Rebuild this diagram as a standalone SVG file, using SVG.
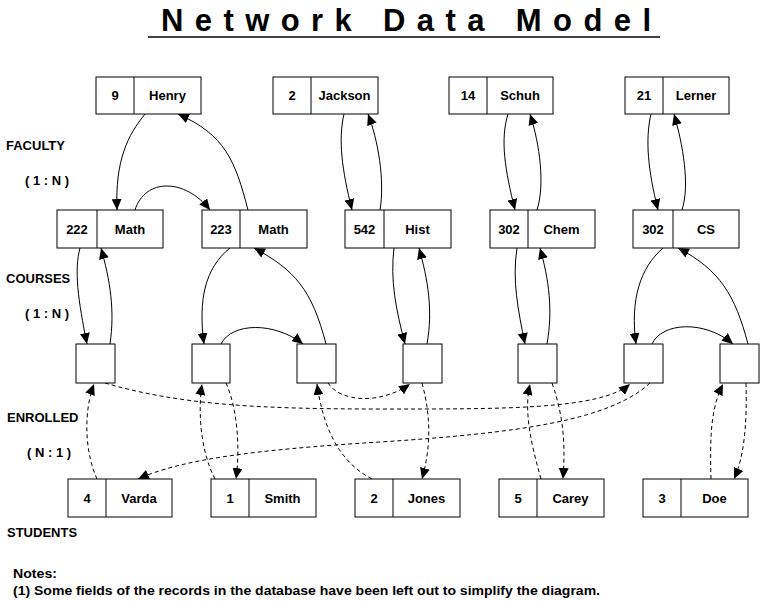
<svg xmlns="http://www.w3.org/2000/svg" width="763" height="601" viewBox="0 0 763 601">
<style>
text{font-family:"Liberation Sans",Arial,sans-serif;font-weight:bold;fill:#000}
.bx{fill:#fff;stroke:#000;stroke-width:1}
.dv{stroke:#000;stroke-width:1}
.t{font-size:13px;text-anchor:middle}
.lbl{font-size:13px}
.c{fill:none;stroke:#000;stroke-width:1;marker-end:url(#ah)}
.d{stroke-dasharray:4,3}
</style>
<defs>
<marker id="ah" markerUnits="userSpaceOnUse" markerWidth="12" markerHeight="10" refX="11" refY="5" orient="auto">
<path d="M0,0 L11,5 L0,10 z" fill="#000"/>
</marker>
</defs>
<rect width="763" height="601" fill="#fff"/>
<g id="title">
<text x="161" y="31" font-size="31" textLength="490" lengthAdjust="spacing">Network Data Model</text>
<line x1="148" y1="37" x2="660" y2="37" stroke="#000" stroke-width="1.5"/>
</g>
<g id="labels">
<text class="lbl" x="6" y="150">FACULTY</text>
<text class="lbl" x="25" y="185">( 1 : N )</text>
<text class="lbl" x="6" y="283">COURSES</text>
<text class="lbl" x="25" y="318">( 1 : N )</text>
<text class="lbl" x="7" y="422">ENROLLED</text>
<text class="lbl" x="27" y="457">( N : 1 )</text>
<text class="lbl" x="7" y="537">STUDENTS</text>
<text class="lbl" x="13" y="578" textLength="44" lengthAdjust="spacingAndGlyphs">Notes:</text>
<text class="lbl" x="13" y="595" textLength="587" lengthAdjust="spacingAndGlyphs">(1) Some fields of the records in the database have been left out to simplify the diagram.</text>
</g>
<g id="connectors">
<path class="c" d="M145,114 C128,135 115,160 117,210"/>
<path class="c" d="M135,210 C145,178 185,178 210,210"/>
<path class="c" d="M248,210 C235,160 225,135 178,114"/>
<path class="c" d="M344,114 C338,140 342,170 352,210"/>
<path class="c" d="M380,210 C385,180 378,140 368,114"/>
<path class="c" d="M508,114 C500,140 505,170 515,210"/>
<path class="c" d="M537,210 C545,185 540,145 530,114"/>
<path class="c" d="M651,114 C645,140 648,170 658,210"/>
<path class="c" d="M682,210 C690,185 683,145 674,114"/>
<path class="c" d="M80,248 C74,270 78,300 87,344"/>
<path class="c" d="M110,344 C115,310 110,280 101,248"/>
<path class="c" d="M230,248 C205,268 198,300 204,344"/>
<path class="c" d="M221,344 C232,322 275,322 303,344"/>
<path class="c" d="M326,344 C312,290 295,270 254,248"/>
<path class="c" d="M394,248 C390,280 396,310 405,344"/>
<path class="c" d="M427,344 C433,310 428,280 419,248"/>
<path class="c" d="M517,248 C512,280 518,310 525,344"/>
<path class="c" d="M547,344 C553,310 549,280 540,248"/>
<path class="c" d="M663,248 C640,268 630,300 636,344"/>
<path class="c" d="M652,344 C662,322 705,320 733,344"/>
<path class="c" d="M748,344 C735,295 720,270 678,248"/>
<path class="c d" d="M97,479 C84,450 84,410 94,384"/>
<path class="c d" d="M105,383 C180,405 260,409 380,409 C500,409 600,410 630,384"/>
<path class="c d" d="M650,383 C610,420 520,433 380,442 C250,450 180,460 138,479"/>
<path class="c d" d="M215,479 C200,450 198,410 202,384"/>
<path class="c d" d="M226,383 C238,410 240,450 236,479"/>
<path class="c d" d="M372,479 C335,460 322,420 317,384"/>
<path class="c d" d="M328,383 C340,402 380,405 410,384"/>
<path class="c d" d="M422,383 C432,420 430,450 422,479"/>
<path class="c d" d="M541,479 C530,440 524,410 530,384"/>
<path class="c d" d="M552,383 C565,420 565,450 563,479"/>
<path class="c d" d="M711,479 C710,440 710,410 723,384"/>
<path class="c d" d="M746,383 C747,420 745,455 734,479"/>
</g>
<g id="fac-henry"><rect class="bx" x="96" y="77" width="105" height="37"/><line class="dv" x1="134" y1="77" x2="134" y2="114"/><text class="t" x="115" y="100">9</text><text class="t" x="167.5" y="100">Henry</text></g>
<g id="fac-jackson"><rect class="bx" x="273" y="77" width="105" height="37"/><line class="dv" x1="311" y1="77" x2="311" y2="114"/><text class="t" x="292" y="100">2</text><text class="t" x="344.5" y="100">Jackson</text></g>
<g id="fac-schuh"><rect class="bx" x="449" y="77" width="104" height="37"/><line class="dv" x1="487" y1="77" x2="487" y2="114"/><text class="t" x="468" y="100">14</text><text class="t" x="520" y="100">Schuh</text></g>
<g id="fac-lerner"><rect class="bx" x="625" y="77" width="104" height="37"/><line class="dv" x1="663" y1="77" x2="663" y2="114"/><text class="t" x="644" y="100">21</text><text class="t" x="696" y="100">Lerner</text></g>
<g id="crs-222"><rect class="bx" x="57" y="210" width="106" height="38"/><line class="dv" x1="97" y1="210" x2="97" y2="248"/><text class="t" x="77" y="234">222</text><text class="t" x="130" y="234">Math</text></g>
<g id="crs-223"><rect class="bx" x="202" y="210" width="105" height="38"/><line class="dv" x1="240" y1="210" x2="240" y2="248"/><text class="t" x="221" y="234">223</text><text class="t" x="273.5" y="234">Math</text></g>
<g id="crs-542"><rect class="bx" x="345" y="210" width="106" height="38"/><line class="dv" x1="384" y1="210" x2="384" y2="248"/><text class="t" x="364.5" y="234">542</text><text class="t" x="417.5" y="234">Hist</text></g>
<g id="crs-chem"><rect class="bx" x="490" y="210" width="105" height="38"/><line class="dv" x1="528" y1="210" x2="528" y2="248"/><text class="t" x="509" y="234">302</text><text class="t" x="561.5" y="234">Chem</text></g>
<g id="crs-cs"><rect class="bx" x="633" y="210" width="106" height="38"/><line class="dv" x1="673" y1="210" x2="673" y2="248"/><text class="t" x="653" y="234">302</text><text class="t" x="706" y="234">CS</text></g>
<g id="enr-1"><rect class="bx" x="76" y="344" width="39" height="39"/></g>
<g id="enr-2"><rect class="bx" x="192" y="344" width="38" height="39"/></g>
<g id="enr-3"><rect class="bx" x="297" y="344" width="39" height="39"/></g>
<g id="enr-4"><rect class="bx" x="403" y="344" width="39" height="39"/></g>
<g id="enr-5"><rect class="bx" x="518" y="344" width="39" height="39"/></g>
<g id="enr-6"><rect class="bx" x="624" y="344" width="39" height="39"/></g>
<g id="enr-7"><rect class="bx" x="720" y="344" width="39" height="39"/></g>
<g id="stu-varda"><rect class="bx" x="68" y="479" width="104" height="38"/><line class="dv" x1="106" y1="479" x2="106" y2="517"/><text class="t" x="87" y="503">4</text><text class="t" x="139" y="503">Varda</text></g>
<g id="stu-smith"><rect class="bx" x="211" y="479" width="105" height="38"/><line class="dv" x1="249" y1="479" x2="249" y2="517"/><text class="t" x="230" y="503">1</text><text class="t" x="282.5" y="503">Smith</text></g>
<g id="stu-jones"><rect class="bx" x="355" y="479" width="105" height="38"/><line class="dv" x1="393" y1="479" x2="393" y2="517"/><text class="t" x="374" y="503">2</text><text class="t" x="426.5" y="503">Jones</text></g>
<g id="stu-carey"><rect class="bx" x="499" y="479" width="105" height="38"/><line class="dv" x1="537" y1="479" x2="537" y2="517"/><text class="t" x="518" y="503">5</text><text class="t" x="570.5" y="503">Carey</text></g>
<g id="stu-doe"><rect class="bx" x="643" y="479" width="105" height="38"/><line class="dv" x1="681" y1="479" x2="681" y2="517"/><text class="t" x="662" y="503">3</text><text class="t" x="714.5" y="503">Doe</text></g>
</svg>
